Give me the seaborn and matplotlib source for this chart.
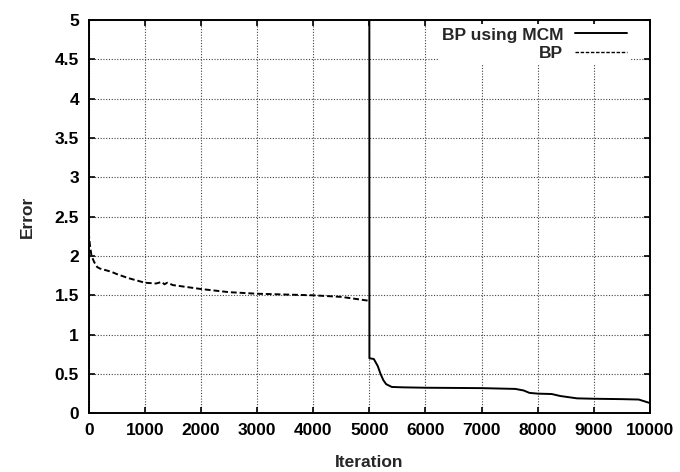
import numpy as np
import pandas as pd
import matplotlib
matplotlib.use("Agg")
import matplotlib.pyplot as plt
import seaborn as sns

# BP (dashed), iterations 0..5000
bp_x = [0, 20, 50, 100, 150, 200, 300, 400, 500, 700, 1000, 1200, 1250, 1300,
        1350, 1400, 1500, 2000, 2500, 3000, 3500, 4000, 4500, 4800, 5000]
bp_y = [2.30, 2.15, 2.00, 1.92, 1.86, 1.84, 1.82, 1.80, 1.77, 1.72, 1.66, 1.65,
        1.66, 1.67, 1.64, 1.66, 1.63, 1.58, 1.54, 1.52, 1.51, 1.50, 1.48, 1.45, 1.43]

# BP using MCM (solid), iterations 5000..10000
mcm_x = [5000, 5001, 5080, 5150, 5200, 5250, 5300, 5400, 5600, 6000, 7000, 7600,
         7750, 7850, 8000, 8250, 8400, 8700, 9000, 9500, 9800, 10000]
mcm_y = [5.00, 0.70, 0.69, 0.60, 0.50, 0.42, 0.37, 0.335, 0.33, 0.325, 0.32, 0.31,
         0.29, 0.26, 0.25, 0.245, 0.22, 0.19, 0.185, 0.18, 0.175, 0.13]

x_ticks = [0, 1000, 2000, 3000, 4000, 5000, 6000, 7000, 8000, 9000, 10000]
y_ticks = [0, 0.5, 1, 1.5, 2, 2.5, 3, 3.5, 4, 4.5, 5]
y_tick_labels = ["0", "0.5", "1", "1.5", "2", "2.5", "3", "3.5", "4", "4.5", "5"]

sns.set_style("ticks")
plt.rcParams["font.family"] = ["Liberation Sans", "DejaVu Sans"]
plt.rcParams["font.weight"] = "bold"

fig = plt.figure(figsize=(6.8, 4.72), dpi=100)
ax = fig.add_axes([88.7 / 680, 1 - 413.3 / 472, (650 - 88.7) / 680, (413.3 - 20) / 472])

df_mcm = pd.DataFrame({"Iteration": mcm_x, "Error": mcm_y})
df_bp = pd.DataFrame({"Iteration": bp_x, "Error": bp_y})

sns.lineplot(data=df_mcm, x="Iteration", y="Error", ax=ax, color="black",
             linewidth=1.4, label="BP using MCM", sort=False)
sns.lineplot(data=df_bp, x="Iteration", y="Error", ax=ax, color="black",
             linewidth=1.4, label="BP", sort=False)
ax.lines[1].set_dashes([3, 1.5])

ax.set_xlim(0, 10000)
ax.set_ylim(0, 5)
ax.set_xticks(x_ticks)
ax.set_xticklabels([str(t) for t in x_ticks])
ax.set_yticks(y_ticks)
ax.set_yticklabels(y_tick_labels)

ax.grid(True, linestyle=(0, (1, 1.5)), color="#444444", linewidth=0.8)
ax.set_axisbelow(True)

for s in ax.spines.values():
    s.set_linewidth(1.4)
    s.set_color("black")
    s.set_visible(True)

ax.tick_params(direction="in", length=4, width=1.2, top=True, right=True,
               labelsize=12.5, pad=7, colors="black")
ax.set_xlabel("Iteration", fontsize=12.5, fontweight="bold", labelpad=12)
ax.set_ylabel("Error", fontsize=12.5, fontweight="bold", labelpad=14)

leg = ax.legend(loc="upper right", bbox_to_anchor=(0.966, 0.99), markerfirst=False,
                frameon=True, prop={"size": 12.5, "weight": "bold"},
                handlelength=3.0, handletextpad=0.7,
                labelspacing=0.2, borderpad=0.2, borderaxespad=0.0)
leg.get_frame().set_facecolor("white")
leg.get_frame().set_edgecolor("none")
leg.get_frame().set_alpha(1)
leg.get_lines()[1].set_dashes([2.5, 1.2])
leg.get_lines()[1].set_linewidth(1.0)

fig.savefig("out.png", dpi=100)
